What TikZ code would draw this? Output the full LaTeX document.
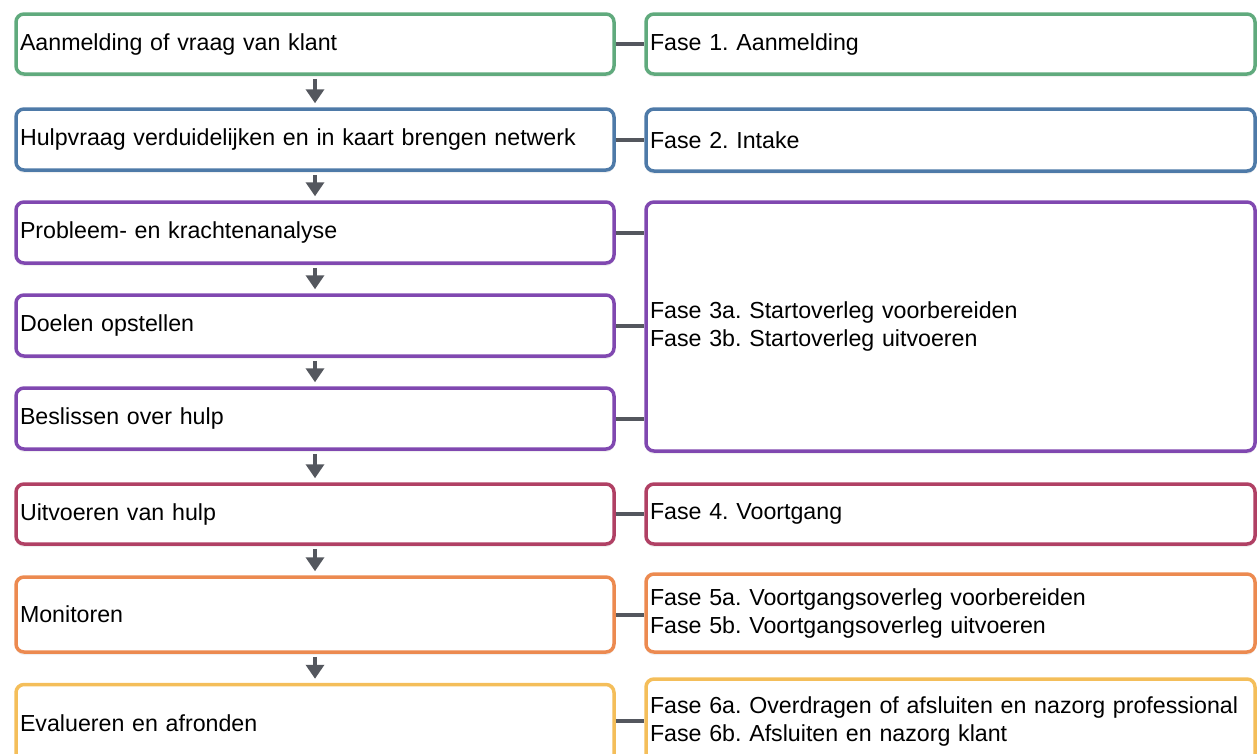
\documentclass[tikz,border=0pt]{standalone}
\usepackage{fontspec}
\setmainfont{Liberation Sans}
\frenchspacing
\usetikzlibrary{%
		arrows.meta%
		,shadows%
	}
\definecolor{faseGreen}{RGB}{96,170,125}
\definecolor{faseBlue}{RGB}{78,122,168}
\definecolor{fasePurple}{RGB}{128,72,176}
\definecolor{faseRed}{RGB}{176,64,100}
\definecolor{faseOrange}{RGB}{236,138,80}
\definecolor{faseYellow}{RGB}{244,190,90}
\definecolor{lineGray}{RGB}{84,87,94}

\begin{document}
\begin{tikzpicture}[x=1pt, y=-1pt,
		box/.style={draw=#1, line width=3.5pt, rounded corners=8pt, fill=white, text=black,
			align=left, inner xsep=3pt, inner ysep=0pt,
			font=\fontsize{23.2}{28}\selectfont,
			drop shadow={shadow xshift=0pt, shadow yshift=-3pt, opacity=0.12}},
		leftbox/.style={box=#1, minimum width=598pt, text width=590pt},
		rightbox/.style={box=#1, minimum width=609pt, text width=601pt},
		flow/.style={lineGray, line width=4pt, -{Triangle[width=18pt,length=14pt]}, shorten <=3pt, shorten >=4pt},
		link/.style={lineGray, line width=4pt}]
			\clip (0,0) rectangle (1258,753);
			
			% left column
			\node[leftbox=faseGreen, minimum height=60pt] (aanmelding) at (315,44) {Aanmelding of vraag van klant};
			\node[leftbox=faseBlue, minimum height=61pt] (hulpvraag) at (315,139.5) {Hulpvraag verduidelijken en in kaart brengen netwerk};
			\node[leftbox=fasePurple, minimum height=61pt] (analyse) at (315,232.5) {Probleem- en krachtenanalyse};
			\node[leftbox=fasePurple, minimum height=61pt] (doelen) at (315,325.5) {Doelen opstellen};
			\node[leftbox=fasePurple, minimum height=61pt] (beslissen) at (315,418.5) {Beslissen over hulp};
			\node[leftbox=faseRed, minimum height=60pt] (uitvoeren) at (315,514) {Uitvoeren van hulp};
			\node[leftbox=faseOrange, minimum height=75pt] (monitoren) at (315,614.5) {Monitoren};
			\node[leftbox=faseYellow, minimum height=78pt] (evalueren) at (315,723.5) {Evalueren en afronden};
			
			% right column
			\node[rightbox=faseGreen, minimum height=60pt] (fase1) at (950.5,44) {Fase 1. Aanmelding};
			\node[rightbox=faseBlue, minimum height=62pt] (fase2) at (950.5,140) {Fase 2. Intake};
			\node[rightbox=fasePurple, minimum height=249pt] (fase3) at (950.5,326.5) {Fase 3a. Startoverleg voorbereiden\\Fase 3b. Startoverleg uitvoeren};
			\node[rightbox=faseRed, minimum height=60pt] (fase4) at (950.5,514) {Fase 4. Voortgang};
			\node[rightbox=faseOrange, minimum height=78pt] (fase5) at (950.5,613) {Fase 5a. Voortgangsoverleg voorbereiden\\Fase 5b. Voortgangsoverleg uitvoeren};
			\node[rightbox=faseYellow, minimum height=84pt] (fase6) at (950.5,721) {Fase 6a. Overdragen of afsluiten en nazorg professional\\Fase 6b. Afsluiten en nazorg klant};
			
			% arrows
			\draw[flow] (aanmelding) -- (hulpvraag);
			\draw[flow] (hulpvraag) -- (analyse);
			\draw[flow] (analyse) -- (doelen);
			\draw[flow] (doelen) -- (beslissen);
			\draw[flow] (beslissen) -- (uitvoeren);
			\draw[flow] (uitvoeren) -- (monitoren);
			\draw[flow] (monitoren) -- (evalueren);
			
			% links
			\draw[link] (aanmelding.east) -- (fase1.west);
			\draw[link] (hulpvraag.east) -- (hulpvraag.east -| fase2.west);
			\draw[link] (analyse.east) -- (analyse.east -| fase3.west);
			\draw[link] (doelen.east) -- (doelen.east -| fase3.west);
			\draw[link] (beslissen.east) -- (beslissen.east -| fase3.west);
			\draw[link] (uitvoeren.east) -- (fase4.west);
			\draw[link] (monitoren.east) -- (monitoren.east -| fase5.west);
			\draw[link] (evalueren.east |- fase6.west) -- (fase6.west);
		\end{tikzpicture}
\end{document}
